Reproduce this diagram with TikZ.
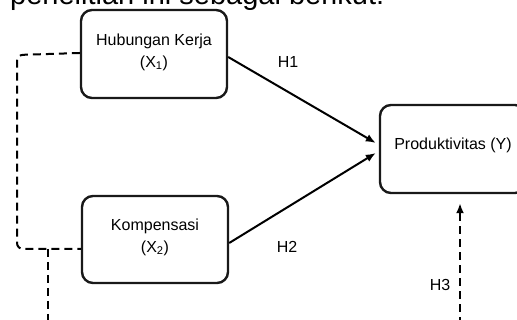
\documentclass[tikz,border=0pt]{standalone}
\usepackage{fontspec}
\setmainfont{Liberation Sans}
\usetikzlibrary{arrows.meta}
\begin{document}
\begin{tikzpicture}[x=1pt,y=-1pt,
  varbox/.style={draw=black!90, line width=2.4pt, rounded corners=11pt, minimum width=146pt, align=center, font=\fontsize{16}{22}\selectfont, inner sep=0pt},
  path/.style={line width=2pt, -{Latex[length=10pt,width=8pt]}},
  dpath/.style={line width=2pt, dash pattern=on 8pt off 5pt},
  hlabel/.style={font=\fontsize{16}{18}\selectfont}]
\useasboundingbox (0,0) rectangle (517,320);
\clip (0,0) rectangle (517,320);
\fill[white] (0,0) rectangle (517,320);
\node[anchor=base west, font=\fontsize{29}{32}\selectfont, inner sep=0pt] (top) at (10,5) {penelitian ini sebagai berikut:};
\node[varbox, minimum height=88pt, text depth=7pt] (x1) at (154,54) {Hubungan Kerja\\(X\textsubscript{1})};
\node[varbox, minimum height=87pt, text depth=8pt] (x2) at (155,239.5) {Kompensasi\\(X\textsubscript{2})};
\node[varbox, minimum height=88pt, text depth=10pt] (y) at (453,149) {Produktivitas (Y)};
\node[hlabel] (h1) at (288,62) {H1};
\node[hlabel] (h2) at (287,247) {H2};
\node[hlabel] (h3) at (440,285) {H3};
\coordinate (bl) at (48,325);
\coordinate (br) at (460,325);
\draw[path] ([yshift=-3pt]x1.east) -- ([yshift=6pt,xshift=-3pt]y.west);
\draw[path] ([yshift=-3.5pt]x2.east) -- ([yshift=-4pt,xshift=-3pt]y.west);
\draw[dpath, rounded corners=6pt] ([yshift=1pt]x1.west) -- (17,55) -- (17,249) -- ([yshift=-9.5pt]x2.west);
\draw[dpath] (48,249) -- (bl);
\draw[dpath, -{Latex[length=10pt,width=8pt]}, shorten >=9pt] (br) -- (br |- y.south);
\end{tikzpicture}
\end{document}
